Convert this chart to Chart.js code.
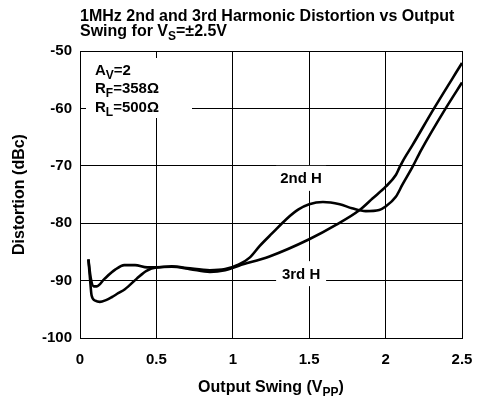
<!DOCTYPE html>
<html><head><meta charset="utf-8">
<script src="https://cdn.jsdelivr.net/npm/chart.js@4/dist/chart.umd.min.js"></script>
<style>html,body{margin:0;padding:0;background:#fff}canvas{display:block}</style>
</head><body>
<canvas id="c" width="478" height="402"></canvas>
<script>
// ---- data ----
const xTicks = [0, 0.5, 1, 1.5, 2, 2.5];
const yTicks = [-100, -90, -80, -70, -60, -50];

const swing2nd = [0.055, 0.07, 0.09, 0.11, 0.16, 0.23, 0.29, 0.36, 0.44, 0.5, 0.6, 0.7, 0.85, 0.95, 1.04, 1.11, 1.175, 1.26, 1.35, 1.43, 1.5, 1.59, 1.7, 1.78, 1.87, 1.958, 2.0, 2.067, 2.11, 2.176, 2.23, 2.393, 2.5];
const dist2nd  = [-86.3, -89.5, -91.0, -91.0, -89.7, -88.1, -87.3, -87.3, -87.7, -87.7, -87.5, -87.8, -88.2, -88.0, -87.2, -86.0, -84.0, -81.7, -79.3, -77.6, -76.7, -76.3, -76.7, -77.4, -77.9, -77.7, -77.1, -75.4, -73.3, -70.2, -67.4, -60.0, -55.5];

const swing3rd = [0.055, 0.065, 0.076, 0.1, 0.13, 0.17, 0.207, 0.25, 0.294, 0.37, 0.435, 0.5, 0.6, 0.72, 0.85, 0.95, 1.04, 1.24, 1.5, 1.675, 1.83, 1.914, 2.002, 2.067, 2.089, 2.11, 2.176, 2.317, 2.5];
const dist3rd  = [-86.3, -89.5, -92.6, -93.5, -93.7, -93.4, -92.9, -92.2, -91.5, -89.7, -88.3, -87.7, -87.6, -88.0, -88.5, -88.2, -87.4, -85.8, -82.8, -80.3, -77.7, -75.7, -73.6, -71.6, -70.4, -69.3, -66.4, -60.0, -52.1];

const seriesLabels = ['2nd H', '3rd H'];
const labelPos = [[1.447, -72.1], [1.447, -88.7]];

const FONT = '"Liberation Sans", Arial, Helvetica, sans-serif';

function toPts(xs, ys) { return xs.map((v, i) => ({x: v, y: ys[i]})); }

function richWidth(ctx, segs, size) {
  let w = 0;
  for (const s of segs) {
    ctx.font = 'bold ' + (s.sub ? Math.round(size * 0.78) : size) + 'px ' + FONT;
    w += ctx.measureText(s.t).width;
  }
  return w;
}
function richText(ctx, segs, x, y, size, align) {
  const w = richWidth(ctx, segs, size);
  let cx = align === 'center' ? x - w / 2 : x;
  ctx.textAlign = 'left';
  ctx.textBaseline = 'alphabetic';
  for (const s of segs) {
    const sz = s.sub ? Math.round(size * 0.78) : size;
    ctx.font = 'bold ' + sz + 'px ' + FONT;
    ctx.fillText(s.t, cx, y + (s.sub ? size * 0.28 : 0));
    cx += ctx.measureText(s.t).width;
  }
}

const overlay = {
  id: 'overlay',
  beforeDatasetsDraw(chart) {
    const {ctx, chartArea: a, scales: {x, y}} = chart;
    ctx.save();
    ctx.fillStyle = '#fff';
    ctx.fillRect(a.left + 6, a.top + 7, 106, 60);
    ctx.fillStyle = '#000';
    richText(ctx, [{t: 'A'}, {t: 'V', sub: true}, {t: '=2'}], a.left + 15, a.top + 24, 15);
    richText(ctx, [{t: 'R'}, {t: 'F', sub: true}, {t: '=358Ω'}], a.left + 15, a.top + 42, 15);
    richText(ctx, [{t: 'R'}, {t: 'L', sub: true}, {t: '=500Ω'}], a.left + 15, a.top + 61, 15);
    seriesLabels.forEach((lab, i) => {
      const cx = x.getPixelForValue(labelPos[i][0]);
      const cy = y.getPixelForValue(labelPos[i][1]);
      ctx.fillStyle = '#fff';
      ctx.fillRect(cx - 25, cy - 12, 50, 25);
      ctx.fillStyle = '#000';
      ctx.font = 'bold 15px ' + FONT;
      ctx.textAlign = 'center';
      ctx.textBaseline = 'alphabetic';
      ctx.fillText(lab, cx, cy + 5.5);
    });
    ctx.restore();
  },
  afterDraw(chart) {
    const {ctx, chartArea: a} = chart;
    ctx.save();
    ctx.fillStyle = '#000';
    richText(ctx, [{t: '1MHz 2nd and 3rd Harmonic Distortion vs Output'}], a.left, 21, 16);
    richText(ctx, [{t: 'Swing for V'}, {t: 'S', sub: true}, {t: '=±2.5V'}], a.left, 36, 16);
    richText(ctx, [{t: 'Output Swing (V'}, {t: 'PP', sub: true}, {t: ')'}], (a.left + a.right) / 2, 392, 16, 'center');
    ctx.translate(24, (a.top + a.bottom) / 2);
    ctx.rotate(-Math.PI / 2);
    richText(ctx, [{t: 'Distortion (dBc)'}], 0, 0, 16, 'center');
    ctx.restore();
  }
};

new Chart(document.getElementById('c'), {
  type: 'line',
  data: {
    datasets: [
      {label: seriesLabels[0], data: toPts(swing2nd, dist2nd)},
      {label: seriesLabels[1], data: toPts(swing3rd, dist3rd)}
    ].map(d => Object.assign(d, {
      borderColor: '#000', borderWidth: 2.6, pointRadius: 0, fill: false,
      cubicInterpolationMode: 'monotone'
    }))
  },
  options: {
    responsive: false,
    animation: false,
    devicePixelRatio: 1,
    layout: {padding: {top: 51, right: 16, left: 0, bottom: 0}},
    plugins: {legend: {display: false}, title: {display: false}, tooltip: {enabled: false}},
    scales: {
      x: {
        type: 'linear', min: xTicks[0], max: xTicks[xTicks.length - 1],
        afterBuildTicks: s => { s.ticks = xTicks.map(v => ({value: v})); },
        afterFit: s => { s.height = 64; s.paddingLeft = 0; s.paddingRight = 0; },
        grid: {color: '#000', lineWidth: 1, drawTicks: false},
        border: {color: '#000', width: 1},
        ticks: {color: '#000', font: {family: FONT, size: 15, weight: 'bold'}, padding: 13,
                callback: v => String(v)}
      },
      y: {
        type: 'linear', min: yTicks[0], max: yTicks[yTicks.length - 1],
        afterBuildTicks: s => { s.ticks = yTicks.map(v => ({value: v})); },
        afterFit: s => { s.width = 80; s.paddingTop = 0; s.paddingBottom = 0; },
        grid: {color: '#000', lineWidth: 1, drawTicks: false},
        border: {color: '#000', width: 1},
        ticks: {color: '#000', font: {family: FONT, size: 15, weight: 'bold'}, padding: 8,
                callback: v => String(v)}
      }
    }
  },
  plugins: [overlay]
});
</script>
</body></html>
